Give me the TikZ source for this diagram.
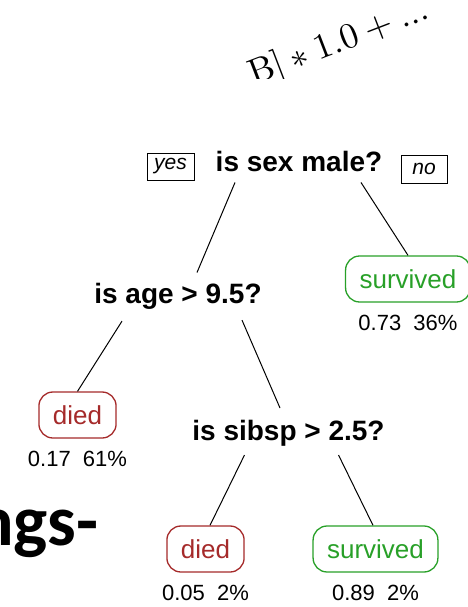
\documentclass[tikz,border=0pt]{standalone}
\usepackage[no-math]{fontspec}
\setmainfont{Liberation Sans}
\newfontfamily\slidefont{Carlito}
\usetikzlibrary{positioning,calc}
\definecolor{diedred}{RGB}{165,42,42}
\definecolor{survgreen}{RGB}{40,160,40}
\tikzset{
    split/.style={
        inner sep=0pt,
        font={\fontsize{28pt}{32pt}\selectfont\bfseries}
    },
    leaf/.style={
        rectangle,
        rounded corners=14pt,
        line width=1.3pt,
        minimum height=46pt,
        inner xsep=14pt,
        font={\fontsize{26pt}{30pt}\selectfont}
    },
    died/.style={leaf, draw=diedred, text=diedred},
    survived/.style={leaf, draw=survgreen, text=survgreen},
    prob/.style={inner sep=0pt, font={\fontsize{22pt}{26pt}\selectfont}},
    answer/.style={
        draw, line width=0.9pt,
        minimum width=47pt, minimum height=27pt, inner sep=0pt,
        font={\fontsize{21pt}{24pt}\selectfont\itshape}
    },
    branch/.style={draw, line width=1pt},
}
\begin{document}
\begin{tikzpicture}[x=1pt, y=-1pt]
\useasboundingbox (0,0) rectangle (467,607);

% formula cut off at the top
\begin{scope}
  \clip (200,0) rectangle (467,79);
  \node [anchor=base west, inner sep=0pt, rotate=21, scale=3.6, transform shape,
         font={\fontsize{10pt}{12pt}\selectfont}] (formula) at (253,86)
    {$\mathrm{B}] * 1.0 + ...$};
\end{scope}

% slide title, cut off at the left
\node [anchor=base west, inner sep=0pt,
       font={\fontsize{72pt}{80pt}\slidefont\bfseries}] (title) at (-25,545) {ngs-};

% splits
\node [split, anchor=base] (sex) at (299,171) {is sex male?};
\node [split, anchor=base] (age) at (178,303) {is age > 9.5?};
\node [split, anchor=base] (sibsp) at (288.5,440) {is sibsp > 2.5?};

\node [answer] (yes) at (170.5,166.5) {yes};
\node [answer, minimum width=46pt, minimum height=28pt] (no) at (424,169) {no};

% leaves
\node [survived] (surv1) at (408,279) {survived};
\node [died] (died1) at (77.5,415) {died};
\node [died] (died2) at (205.5,549) {died};
\node [survived] (surv2) at (375.5,549) {survived};

\foreach \leaf/\l in {surv1/0.73\ \ 36\%, died1/0.17\ \ 61\%,
                      died2/0.05\ \ 2\%, surv2/0.89\ \ 2\%}
  \node [prob, below=12pt of \leaf] (p-\leaf) {\l};

% branches
\draw [branch] ([shift={(-64,11)}]sex.south) -- ([shift={(19,-10)}]age.north);
\draw [branch] ([shift={(62,11)}]sex.south) -- (surv1.north);
\draw [branch] ([shift={(-56,12)}]age.south) -- (died1.north);
\draw [branch] ([shift={(64,11)}]age.south) -- ([shift={(-8.5,-11.5)}]sibsp.north);
\draw [branch] ([shift={(-44,9)}]sibsp.south) -- ([shift={(4.5,0)}]died2.north);
\draw [branch] ([shift={(50,9)}]sibsp.south) -- ([shift={(-2.5,0)}]surv2.north);

\end{tikzpicture}
\end{document}
